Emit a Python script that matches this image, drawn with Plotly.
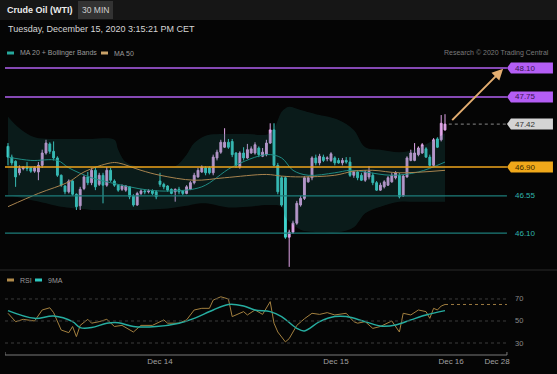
import plotly.graph_objects as go

W, H = 557, 374
FONT = "Liberation Sans, Arial, sans-serif"

# ---------------- data (30-min WTI candles) ----------------
open_ = [47.15,47.02,46.97,46.83,46.88,46.90,46.89,46.85,46.84,46.92,
         47.07,47.18,47.09,47.01,46.80,46.67,46.60,46.73,46.57,46.43,
         46.64,46.78,46.71,46.86,46.69,46.80,46.68,46.86,46.73,46.68,
         46.63,46.62,46.66,46.55,46.44,46.58,46.61,46.60,46.61,46.60,
         46.73,46.69,46.67,46.63,46.60,46.63,46.61,46.58,46.63,46.71,
         46.78,46.84,46.89,46.89,46.83,47.01,47.08,47.14,47.20,47.21,
         47.07,46.90,47.07,47.01,47.07,47.07,47.13,47.03,47.05,47.19,
         47.35,46.92,46.77,46.77,46.05,46.11,46.22,46.44,46.52,46.72,
         46.77,47.01,46.95,47.02,47.00,46.98,47.01,46.98,46.95,46.98,
         46.96,46.80,46.84,46.80,46.74,46.78,46.80,46.71,46.62,46.66,
         46.68,46.72,46.77,46.80,46.55,46.78,46.98,46.98,47.05,47.07,
         47.12,47.02,46.92,47.24,47.23,47.35]
high = [47.19,47.05,46.98,46.92,46.91,46.96,46.90,46.91,46.96,47.11,
        47.23,47.20,47.21,47.03,46.81,46.68,46.75,46.74,46.58,46.66,
        46.80,46.84,46.89,46.89,46.83,46.83,46.90,46.89,46.75,46.69,
        46.69,46.68,46.67,46.57,46.60,46.63,46.63,46.63,46.63,46.62,
        46.83,46.71,46.68,46.64,46.64,46.66,46.62,46.68,46.73,46.83,
        46.89,46.92,46.91,46.91,47.05,47.11,47.23,47.37,47.24,47.24,
        47.08,47.09,47.14,47.18,47.15,47.20,47.15,47.13,47.23,47.43,
        47.43,46.95,46.79,46.79,46.14,46.25,46.49,46.55,46.79,46.79,
        47.03,47.05,47.06,47.05,47.03,47.08,47.03,47.01,47.01,47.02,
        47.02,46.86,46.86,46.83,46.86,46.91,46.83,46.73,46.71,46.74,
        46.79,46.83,46.85,46.83,46.81,47.03,47.11,47.19,47.15,47.19,
        47.14,47.05,47.25,47.26,47.53,47.54]
low = [46.92,46.92,46.66,46.80,46.86,46.85,46.83,46.83,46.74,46.89,
       47.05,47.06,46.98,46.78,46.66,46.57,46.58,46.55,46.38,46.38,
       46.62,46.68,46.68,46.62,46.67,46.46,46.66,46.72,46.66,46.60,
       46.61,46.60,46.51,46.42,46.43,46.56,46.57,46.58,46.56,46.51,
       46.66,46.63,46.60,46.57,46.48,46.57,46.56,46.57,46.62,46.69,
       46.77,46.83,46.80,46.81,46.80,46.98,47.06,47.13,47.12,47.02,
       46.89,46.88,46.98,47.00,47.06,47.05,47.02,47.02,47.03,47.18,
       46.91,46.57,46.42,46.03,45.69,46.09,46.20,46.42,46.50,46.71,
       46.74,46.92,46.92,46.96,46.97,46.96,46.92,46.94,46.92,46.94,
       46.78,46.77,46.74,46.73,46.72,46.75,46.68,46.61,46.61,46.64,
       46.67,46.71,46.75,46.52,46.54,46.77,46.97,46.97,47.03,47.06,
       47.01,46.91,46.91,47.13,47.21,47.34]
close = [47.02,46.95,46.78,46.88,46.90,46.88,46.85,46.89,46.92,47.07,
         47.19,47.09,47.01,46.80,46.68,46.60,46.73,46.57,46.42,46.63,
         46.78,46.71,46.86,46.66,46.80,46.68,46.86,46.74,46.68,46.62,
         46.67,46.67,46.54,46.44,46.58,46.61,46.60,46.61,46.58,46.54,
         46.69,46.66,46.62,46.58,46.63,46.60,46.58,46.66,46.71,46.80,
         46.86,46.90,46.83,46.83,47.02,47.08,47.20,47.20,47.14,47.05,
         46.92,47.07,47.01,47.11,47.12,47.17,47.05,47.08,47.19,47.35,
         46.92,46.60,46.44,46.05,46.11,46.22,46.46,46.52,46.77,46.77,
         47.01,46.95,47.03,46.98,47.01,47.06,46.95,46.95,46.98,46.96,
         46.80,46.84,46.77,46.74,46.84,46.85,46.71,46.62,46.68,46.72,
         46.77,46.80,46.83,46.54,46.79,47.01,47.07,47.07,47.13,47.17,
         47.02,46.92,47.23,47.14,47.43,47.42]
bar_index = list(range(len(close)))

# Bollinger bands (MA 20) read at sample bars
band_x = [0,3,7,11,14,20,22,28,29,31,35,40,44,47,49,52,58,63,69,72,
          73,74,77,81,82,87,91,94,98,103,107,111,115]
band_upper = [47.51,47.37,47.26,47.24,47.24,47.24,47.24,47.23,47.11,46.96,
              46.90,46.89,46.91,47.05,47.19,47.28,47.30,47.30,47.31,47.57,
              47.61,47.63,47.59,47.54,47.53,47.47,47.35,47.14,47.11,47.08,
              47.11,47.20,47.31]
band_lower = [46.56,46.53,46.49,46.45,46.42,46.39,46.38,46.38,46.38,46.38,
              46.38,46.39,46.41,46.43,46.45,46.46,46.41,46.42,46.44,46.42,
              46.29,46.24,46.14,46.11,46.11,46.11,46.17,46.34,46.42,46.48,
              46.48,46.48,46.48]
ma20_x = [0,6,13,16,22,27,32,37,43,51,59,68,72,75,79,86,90,94,101,108,115]
ma20 = [47.02,46.98,46.98,46.89,46.77,46.71,46.66,46.62,46.61,46.66,46.90,
        47.05,47.01,46.86,46.80,46.83,46.86,46.84,46.80,46.84,46.96]
ma50_x = [0,8,16,20,27,29,35,40,49,57,68,72,77,86,91,96,103,115]
ma50 = [46.42,46.58,46.72,46.84,46.95,46.95,46.86,46.80,46.74,46.77,46.81,
        46.79,46.78,46.80,46.85,46.86,46.83,46.86]

# RSI panel
rsi_x = [0,2,4,7,9,11,12,14,16,17,18,19,21,22,24,26,28,30,33,35,
         38,41,42,45,47,49,51,53,54,56,58,59,62,63,65,67,69,70,71,73,
         74,76,78,80,82,84,86,89,91,92,94,96,98,100,101,103,104,106,108,110,
         111,112,113,114,115]
rsi = [57,49.4,51.5,50,60,62,57.6,41.8,39.4,45,35.8,46,51.5,48,49.4,51.5,45,46,40,46,
       46,51,48,48,51,60,61.5,61.5,69,72,70,54,58.5,55.5,60,56,67.6,48,40,31,
       34,46,52,57,56,57.6,55.5,57,49.4,48,49.4,43.3,45,48,50,40,57,55.5,60,58.5,
       52.4,61.5,60,63.6,65]
ma9_x = [0,7,12,17,19,22,26,29,33,39,45,49,54,58,62,65,69,72,76,78,82,86,89,94,98,102,106,110,115]
ma9 = [59.4,52.4,54.5,49.4,44,44,48,48.5,45,45,48,52.4,60,65,63.6,60,58.5,54,43.3,41,
       49.4,54,54,49.4,45.5,46.4,51,55.5,59.4]
rsi_levels = [70, 50, 30]

# key levels
purple_levels = [48.10, 47.75]
last_price = 47.42
orange_level = 46.90
teal_levels = [46.55, 46.10]
arrow_from = (116.5, 47.45)
arrow_to = (130.3, 48.09)

# date axis
date_tick_pos = [40.0, 86.3, 116.6, 128.7]
date_tick_text = ["Dec 14", "Dec 15", "Dec 16", "Dec 28"]

# ---------------- layout helpers ----------------
X_MIN, X_MAX = -0.79, 143.42
AXIS_END = 131.3


def px(x):
    return x / W


def py(y):
    return 1 - y / H


UP = "#e2a6ea"
DOWN = "#3fd3cd"
PURPLE = "#b160f0"
ORANGE = "#eea51c"
TEAL_LINE = "#1c7d7a"
TEAL_TXT = "#2fb5ad"

fig = go.Figure()

# Bollinger band fill
fig.add_trace(go.Scatter(x=band_x, y=band_lower, mode="lines", line=dict(width=0, shape="spline"),
                         hoverinfo="skip", showlegend=False, xaxis="x", yaxis="y"))
fig.add_trace(go.Scatter(x=band_x, y=band_upper, mode="lines", line=dict(width=0, shape="spline"),
                         fill="tonexty", fillcolor="rgba(30,100,96,0.24)",
                         hoverinfo="skip", showlegend=False, xaxis="x", yaxis="y"))
fig.add_trace(go.Scatter(x=ma20_x, y=ma20, mode="lines", line=dict(width=1, color="#1f8a82", shape="spline"),
                         showlegend=False, xaxis="x", yaxis="y"))
fig.add_trace(go.Scatter(x=ma50_x, y=ma50, mode="lines", line=dict(width=1, color="#a8834e", shape="spline"),
                         showlegend=False, xaxis="x", yaxis="y"))

fig.add_trace(go.Candlestick(
    x=bar_index, open=open_, high=high, low=low, close=close,
    increasing=dict(line=dict(color=UP, width=1), fillcolor=UP),
    decreasing=dict(line=dict(color=DOWN, width=1), fillcolor=DOWN),
    whiskerwidth=0, showlegend=False, xaxis="x", yaxis="y"))

# RSI panel
fig.add_trace(go.Scatter(x=rsi_x, y=rsi, mode="lines", line=dict(width=1, color="#a3803f"),
                         showlegend=False, xaxis="x2", yaxis="y2"))
fig.add_trace(go.Scatter(x=ma9_x, y=ma9, mode="lines", line=dict(width=1.5, color="#26ada0", shape="spline"),
                         showlegend=False, xaxis="x2", yaxis="y2"))

shapes = []
annotations = []

# header
shapes.append(dict(type="rect", xref="paper", yref="paper", x0=0, x1=1, y0=py(20), y1=1,
                   fillcolor="#161616", line=dict(width=0), layer="below"))
shapes.append(dict(type="rect", xref="paper", yref="paper", x0=px(78), x1=px(113), y0=py(19), y1=py(1),
                   fillcolor="#333333", line=dict(width=0), layer="below"))
annotations.append(dict(xref="paper", yref="paper", x=px(5), y=py(10), xanchor="left", yanchor="middle",
                        text="<b>Crude Oil (WTI)</b>", showarrow=False,
                        font=dict(family=FONT, size=9, color="#ececec")))
annotations.append(dict(xref="paper", yref="paper", x=px(95.5), y=py(10), xanchor="center", yanchor="middle",
                        text="30 MIN", showarrow=False, font=dict(family=FONT, size=8.5, color="#cfcfcf")))
annotations.append(dict(xref="paper", yref="paper", x=px(6), y=py(29), xanchor="left", yanchor="middle",
                        text="Tuesday, December 15, 2020 3:15:21 PM CET", showarrow=False,
                        font=dict(family=FONT, size=9, color="#d6d6d6")))

# legend row
def swatch(x, y, color):
    shapes.append(dict(type="rect", xref="paper", yref="paper", x0=px(x), x1=px(x + 7),
                       y0=py(y + 1.5), y1=py(y - 1.5), fillcolor=color, line=dict(width=0)))


def legtext(x, y, t):
    annotations.append(dict(xref="paper", yref="paper", x=px(x), y=py(y), xanchor="left", yanchor="middle",
                            text=t, showarrow=False, font=dict(family=FONT, size=7, color="#9a9a9a")))


swatch(7, 53, "#26a89c")
legtext(18, 53, "MA 20 + Bollinger Bands")
swatch(101, 53, "#c9a269")
legtext(112, 53, "MA 50")
annotations.append(dict(xref="paper", yref="paper", x=px(551), y=py(53), xanchor="right", yanchor="middle",
                        text="Research © 2020 Trading Central", showarrow=False,
                        font=dict(family=FONT, size=7, color="#7a7a7a")))

swatch(7, 280, "#b08a4a")
legtext(18, 280, "RSI")
swatch(35, 280, "#2ec9c0")
legtext(46, 280, "9MA")

# level lines and tags
def tag(level, fill, text, tcolor):
    shapes.append(dict(type="path", xref="x", yref="y", xsizemode="pixel", ysizemode="pixel",
                       xanchor=AXIS_END, yanchor=level,
                       path="M0,0 L4,5.5 L46,5.5 L46,-5.5 L4,-5.5 Z",
                       fillcolor=fill, line=dict(width=0)))
    annotations.append(dict(xref="x", yref="y", x=AXIS_END, y=level, xanchor="left", yanchor="middle",
                            xshift=6, text=text, showarrow=False,
                            font=dict(family=FONT, size=8, color=tcolor)))


for lv in purple_levels:
    shapes.append(dict(type="line", xref="x", yref="y", x0=X_MIN, x1=AXIS_END, y0=lv, y1=lv,
                       line=dict(color=PURPLE, width=1.5)))
    tag(lv, "#b45ef5", f"{lv:.2f}", "#3b1552")

shapes.append(dict(type="line", xref="x", yref="y", x0=X_MIN, x1=AXIS_END, y0=orange_level, y1=orange_level,
                   line=dict(color=ORANGE, width=1.5)))
tag(orange_level, "#f0a81a", f"{orange_level:.2f}", "#3d2a00")

shapes.append(dict(type="line", xref="x", yref="y", x0=bar_index[-1] + 1, x1=AXIS_END,
                   y0=last_price, y1=last_price, line=dict(color="#8a8a8a", width=1, dash="dot")))
tag(last_price, "#d4d4d4", f"{last_price:.2f}", "#333333")

for lv in teal_levels:
    shapes.append(dict(type="line", xref="x", yref="y", x0=X_MIN, x1=AXIS_END, y0=lv, y1=lv,
                       line=dict(color=TEAL_LINE, width=1.2)))
    annotations.append(dict(xref="x", yref="y", x=AXIS_END, y=lv, xanchor="left", yanchor="middle",
                            xshift=6, text=f"{lv:.2f}", showarrow=False,
                            font=dict(family=FONT, size=8, color=TEAL_TXT)))

# projection arrow
annotations.append(dict(xref="x", yref="y", axref="x", ayref="y",
                        x=arrow_to[0], y=arrow_to[1], ax=arrow_from[0], ay=arrow_from[1],
                        text="", showarrow=True, arrowhead=2, arrowsize=1.1, arrowwidth=2,
                        arrowcolor="#e3ad70"))

# panel separator
shapes.append(dict(type="line", xref="paper", yref="paper", x0=0, x1=1, y0=py(270), y1=py(270),
                   line=dict(color="#2a2a2a", width=1)))

# RSI reference lines
for lv in rsi_levels:
    shapes.append(dict(type="line", xref="x2", yref="y2", x0=X_MIN, x1=AXIS_END, y0=lv, y1=lv,
                       line=dict(color="#3c3c3c", width=1, dash="dot")))
    annotations.append(dict(xref="x2", yref="y2", x=AXIS_END, y=lv, xanchor="left", yanchor="middle",
                            xshift=6, text=str(lv), showarrow=False,
                            font=dict(family=FONT, size=7.5, color="#8a8a8a")))
shapes.append(dict(type="line", xref="x2", yref="y2", x0=rsi_x[-1], x1=AXIS_END, y0=rsi[-1], y1=rsi[-1],
                   line=dict(color="#9c7a40", width=1, dash="dot")))

# bottom axis line with end ticks
shapes.append(dict(type="line", xref="x2", yref="paper", x0=X_MIN, x1=AXIS_END, y0=py(355), y1=py(355),
                   line=dict(color="#7a7a7a", width=1)))
for xe in (X_MIN, AXIS_END):
    shapes.append(dict(type="line", xref="x2", yref="paper", x0=xe, x1=xe, y0=py(355), y1=py(352),
                       line=dict(color="#7a7a7a", width=1)))

fig.update_layout(
    width=W, height=H,
    margin=dict(l=0, r=0, t=0, b=0),
    paper_bgcolor="#050505", plot_bgcolor="rgba(0,0,0,0)",
    showlegend=False,
    shapes=shapes, annotations=annotations,
    xaxis=dict(domain=[px(5), px(553)], range=[X_MIN, X_MAX], visible=False, anchor="y",
               rangeslider=dict(visible=False)),
    yaxis=dict(domain=[py(270), py(60)], range=[45.652, 48.197], visible=False, anchor="x"),
    xaxis2=dict(domain=[px(5), px(553)], range=[X_MIN, X_MAX], anchor="y2", matches="x",
                tickvals=date_tick_pos, ticktext=date_tick_text, showgrid=False, zeroline=False,
                showline=False, ticks="", tickfont=dict(family=FONT, size=8, color="#a0a0a0")),
    yaxis2=dict(domain=[py(355), py(285)], range=[19.1, 82.7], visible=False, anchor="x2"),
)

fig.write_html("out.html", config={"displayModeBar": False},
               post_script="document.body.style.margin='0';document.body.style.background='#050505';")
